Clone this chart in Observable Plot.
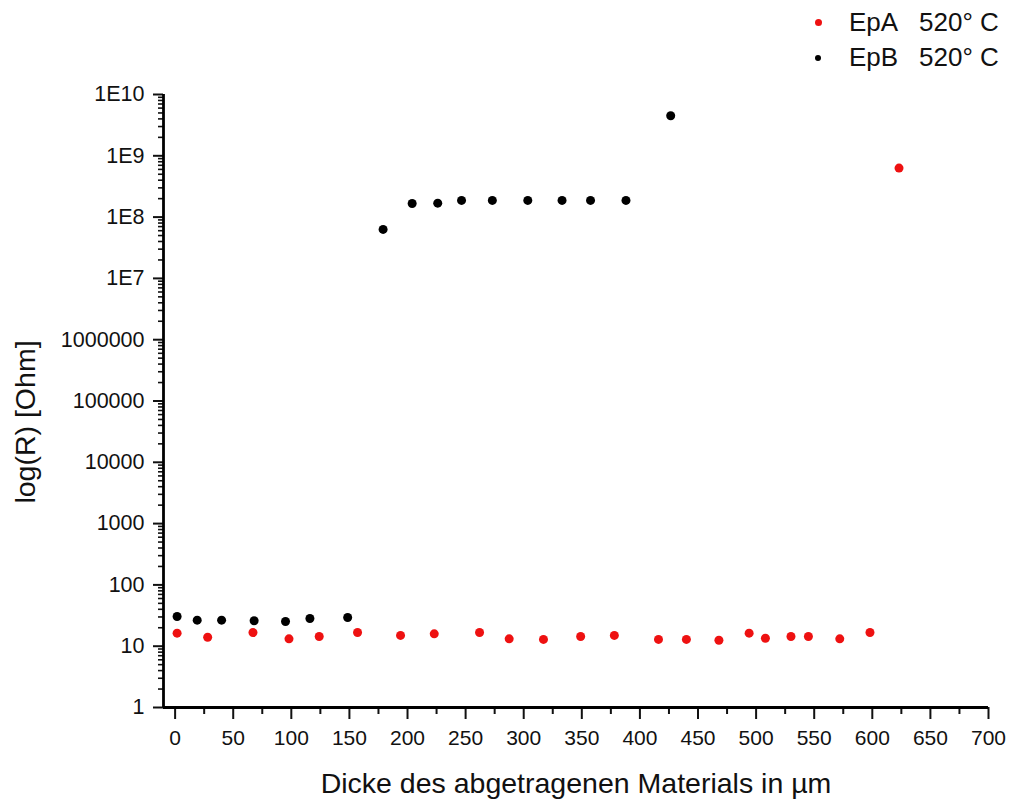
<!DOCTYPE html>
<html>
<head>
<meta charset="utf-8">
<script src="https://cdn.jsdelivr.net/npm/d3@7"></script>
<script src="https://cdn.jsdelivr.net/npm/@observablehq/plot@0.6"></script>
<style>
  html, body { margin: 0; padding: 0; background: #fff; }
  #wrap { position: relative; width: 1011px; height: 801px; font-family: "Liberation Sans", Arial, sans-serif; }
  #legend { position: absolute; left: 800px; top: 5px; font-size: 26px; color: #111; }
  .row { display: flex; align-items: center; height: 35px; white-space: pre; }
  .swbox { width: 36px; display: flex; justify-content: center; margin-right: 13px; }
  .sw { display: inline-block; border-radius: 50%; }
  .name { display: inline-block; width: 70px; }
</style>
</head>
<body>
<div id="wrap"><div id="legend"></div></div>
<script>
// ---- data ----
const epaLabel = "EpA  520° C";
const epbLabel = "EpB  520° C";
const epaColor = "#ee1111";
const epbColor = "#000000";

const epaX = [1.7, 28, 67, 98, 124, 157, 194, 223, 262, 287.5, 317, 349, 378, 416, 440, 468, 494, 508, 530, 545, 572, 598, 623];
const epaR = [16.3, 14.0, 16.7, 13.2, 14.4, 16.7, 15.0, 15.9, 16.7, 13.2, 12.9, 14.4, 15.0, 12.9, 12.9, 12.5, 16.3, 13.5, 14.4, 14.4, 13.2, 16.7, 6.3e8];

const epbX = [1.7, 19, 40, 68, 95, 116, 148.5, 179, 204, 226, 246.5, 273, 303.5, 333, 357.5, 388, 426.5];
const epbR = [30.5, 26.6, 26.6, 26, 25.3, 28.3, 29.4, 6.3e7, 1.67e8, 1.69e8, 1.87e8, 1.87e8, 1.87e8, 1.87e8, 1.87e8, 1.87e8, 4.5e9];

const xDomain = [-10, 700];
const yDomain = [1, 1e10];
const xMajorTicks = [0, 50, 100, 150, 200, 250, 300, 350, 400, 450, 500, 550, 600, 650, 700];
const xMinorTicks = [25, 75, 125, 175, 225, 275, 325, 375, 425, 475, 525, 575, 625, 675];
const yMajorTicks = [1, 10, 100, 1000, 10000, 100000, 1000000, 1e7, 1e8, 1e9, 1e10];
const yTickLabels = ["1", "10", "100", "1000", "10000", "100000", "1000000", "1E7", "1E8", "1E9", "1E10"];
const xTitle = "Dicke des abgetragenen Materials in µm";
const yTitle = "log(R) [Ohm]";

// minor log ticks 2..9 within each decade
const yMinorTicks = [];
for (let k = 0; k < 10; k++) for (let m = 2; m <= 9; m++) yMinorTicks.push(m * Math.pow(10, k));

const epa = epaX.map((x, i) => ({x, r: epaR[i]}));
const epb = epbX.map((x, i) => ({x, r: epbR[i]}));

const fmtY = d => yTickLabels[yMajorTicks.indexOf(d)] ?? "";

const chart = Plot.plot({
  width: 1011,
  height: 801,
  marginLeft: 163,
  marginRight: 23,
  marginTop: 94,
  marginBottom: 94,
  style: { fontFamily: "Liberation Sans, Arial, sans-serif", fontSize: "21px", color: "#111", background: "transparent" },
  x: { domain: xDomain, label: null },
  y: { type: "log", domain: yDomain, label: null },
  marks: [
    Plot.axisX(xMajorTicks, { tickSize: 12, tickPadding: 11, strokeWidth: 2, tickFormat: d => String(d), fontSize: 21, label: null }),
    Plot.axisX(xMinorTicks, { tickSize: 7, strokeWidth: 2, tickFormat: () => "", label: null }),
    Plot.axisY(yMajorTicks, { tickSize: 10, tickPadding: 9, strokeWidth: 2, tickFormat: fmtY, fontSize: 21.5, label: null }),
    Plot.axisY(yMinorTicks, { tickSize: 5, strokeWidth: 1.6, tickFormat: () => "", label: null }),
    Plot.ruleX([xDomain[0]], { stroke: "#000", strokeWidth: 2.8 }),
    Plot.ruleY([yDomain[0]], { stroke: "#000", strokeWidth: 2.8 }),
    Plot.text([xTitle], { frameAnchor: "bottom", dy: 76, lineAnchor: "middle", textAnchor: "middle", fontSize: 28.5, fill: "#111" }),
    Plot.text([yTitle], { frameAnchor: "left", dx: -138, dy: 21, lineAnchor: "middle", textAnchor: "middle", rotate: -90, fontSize: 28.5, fill: "#111" }),
    Plot.dot(epb, { x: "x", y: "r", r: 4.5, fill: epbColor, stroke: null }),
    Plot.dot(epa, { x: "x", y: "r", r: 4.5, fill: epaColor, stroke: null })
  ]
});

const wrap = document.getElementById("wrap");
wrap.insertBefore(chart, wrap.firstChild);

const legend = document.getElementById("legend");
[[epaLabel, epaColor, 7], [epbLabel, epbColor, 6]].forEach(([label, color, size]) => {
  const [name, temp] = label.split(/\s{2,}/);
  const row = document.createElement("div");
  row.className = "row";
  const box = document.createElement("span");
  box.className = "swbox";
  const sw = document.createElement("span");
  sw.className = "sw";
  sw.style.width = size + "px";
  sw.style.height = size + "px";
  sw.style.background = color;
  box.appendChild(sw);
  const n = document.createElement("span");
  n.className = "name";
  n.textContent = name;
  const t = document.createElement("span");
  t.textContent = temp;
  row.appendChild(box);
  row.appendChild(n);
  row.appendChild(t);
  legend.appendChild(row);
});
</script>
</body>
</html>
